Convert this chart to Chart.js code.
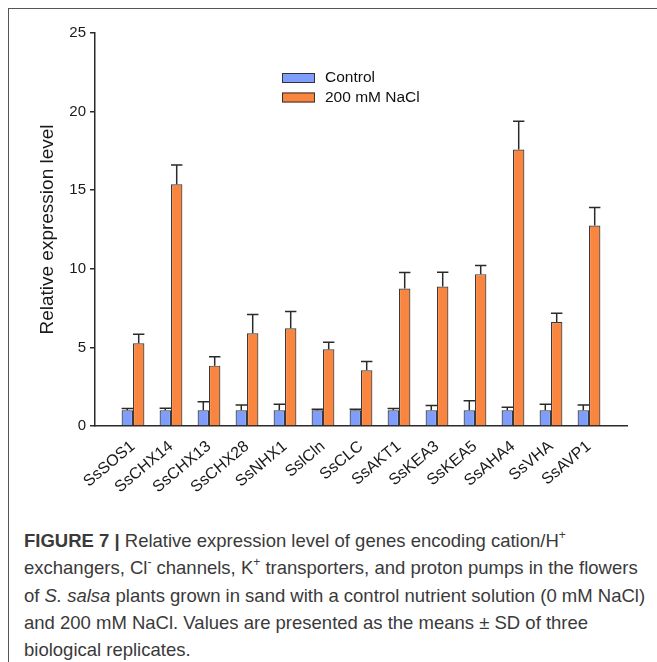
<!DOCTYPE html>
<html>
<head>
<meta charset="utf-8">
<script src="https://cdn.jsdelivr.net/npm/chart.js@4.4.0/dist/chart.umd.min.js"></script>
<style>
  body { margin: 0; background: #fff; }
  #wrap { position: relative; width: 657px; height: 662px; overflow: hidden; }
  #frame { position: absolute; left: 8px; top: 8px; width: 660px; height: 670px;
           border-left: 1px solid #555; border-top: 1px solid #555; }
  #chartBox { position: absolute; left: 0; top: 0; width: 657px; height: 500px; }
  #caption { position: absolute; left: 24px; top: 527px; width: 630px;
             font-family: "Liberation Sans", Arial, sans-serif; font-size: 18.5px;
             line-height: 27.3px; color: #3a3a3a; white-space: nowrap; }
  #caption sup { font-size: 12px; line-height: 0; position: relative; top: -1px; }
</style>
</head>
<body>
<div id="wrap">
  <div id="frame"></div>
  <div id="chartBox"><canvas id="expressionChart" width="657" height="500"></canvas></div>
  <div id="caption">
    <b>FIGURE 7 |</b> Relative expression level of genes encoding cation/H<sup>+</sup><br>
    exchangers, Cl<sup>-</sup> channels, K<sup>+</sup> transporters, and proton pumps in the flowers<br>
    of <i>S. salsa</i> plants grown in sand with a control nutrient solution (0 mM NaCl)<br>
    and 200 mM NaCl. Values are presented as the means &plusmn; SD of three<br>
    biological replicates.
  </div>
</div>
<script>
const genes = ['SsSOS1', 'SsCHX14', 'SsCHX13', 'SsCHX28', 'SsNHX1', 'SslCln', 'SsCLC',
               'SsAKT1', 'SsKEA3', 'SsKEA5', 'SsAHA4', 'SsVHA', 'SsAVP1'];
const controlMean = [1.0, 1.0, 1.0, 1.0, 1.0, 1.0, 1.0, 1.0, 1.0, 1.0, 1.0, 1.0, 1.0];
const controlSD   = [0.12, 0.13, 0.55, 0.34, 0.38, 0.07, 0.06, 0.12, 0.3, 0.6, 0.2, 0.38, 0.34];
const naclMean = [5.26, 15.38, 3.84, 5.9, 6.22, 4.88, 3.54, 8.74, 8.87, 9.66, 17.59, 6.62, 12.75];
const naclSD   = [0.57, 1.23, 0.57, 1.19, 1.06, 0.45, 0.57, 1.02, 0.91, 0.55, 1.8, 0.55, 1.15];
const yTicks = [0, 5, 10, 15, 20, 25];

const FONT = '"Liberation Sans", Arial, sans-serif';

// error bars (upper half only, with cap)
const errorBars = {
    id: 'errorBars',
    afterDatasetsDraw(chart) {
        const ctx = chart.ctx;
        const yScale = chart.scales.y;
        ctx.save();
        ctx.strokeStyle = '#2a2a2a';
        ctx.lineWidth = 1.5;
        chart.data.datasets.forEach((ds, i) => {
            const meta = chart.getDatasetMeta(i);
            meta.data.forEach((bar, j) => {
                const top = yScale.getPixelForValue(ds.data[j].y + ds.sd[j]);
                const half = bar.width / 2;
                ctx.beginPath();
                ctx.moveTo(bar.x, bar.y);
                ctx.lineTo(bar.x, top);
                ctx.moveTo(bar.x - half, top);
                ctx.lineTo(bar.x + half, top);
                ctx.stroke();
            });
        });
        ctx.restore();
    }
};

// legend box inside the plot
const innerLegend = {
    id: 'innerLegend',
    afterDraw(chart) {
        const ctx = chart.ctx;
        ctx.save();
        ctx.font = '15.5px ' + FONT;
        ctx.textBaseline = 'middle';
        chart.data.datasets.forEach((ds, i) => {
            const y = 73 + i * 19.5;
            ctx.fillStyle = ds.backgroundColor;
            ctx.fillRect(282, y, 33, 10);
            ctx.strokeStyle = '#333';
            ctx.lineWidth = 1;
            ctx.strokeRect(282.5, y + 0.5, 32, 9);
            ctx.fillStyle = '#111';
            ctx.fillText(ds.label, 325, y + 5);
        });
        ctx.restore();
    }
};

const expressionChart = new Chart(document.getElementById('expressionChart').getContext('2d'), {
    type: 'bar',
    data: {
        datasets: [
            {
                label: 'Control',
                data: controlMean.map((v, i) => ({ x: i + 1, y: v })),
                sd: controlSD,
                backgroundColor: '#7f9dfd',
                borderColor: '#3a3a3a',
                borderWidth: 1.2
            },
            {
                label: '200 mM NaCl',
                data: naclMean.map((v, i) => ({ x: i + 1, y: v })),
                sd: naclSD,
                backgroundColor: '#fa853f',
                borderColor: '#3a3a3a',
                borderWidth: 1.2
            }
        ]
    },
    options: {
        responsive: false,
        animation: false,
        categoryPercentage: 0.6,
        barPercentage: 1.0,
        layout: { padding: { top: 33, right: 30, left: 0, bottom: 0 } },
        plugins: { legend: { display: false }, tooltip: { enabled: false } },
        scales: {
            x: {
                type: 'linear',
                min: 0,
                max: 14,
                offset: false,
                grid: { display: false },
                border: { display: true, color: '#2a2a2a', width: 1.5 },
                afterBuildTicks: (scale) => { scale.ticks = genes.map((g, i) => ({ value: i + 1 })); },
                afterFit: (scale) => { scale.height = 74; },
                ticks: {
                    autoSkip: false,
                    minRotation: 40,
                    maxRotation: 40,
                    padding: 3,
                    color: '#1a1a1a',
                    font: { family: FONT, size: 16 },
                    callback: (v) => genes[v - 1] || ''
                }
            },
            y: {
                min: 0,
                max: 25,
                afterBuildTicks: (scale) => { scale.ticks = yTicks.map(v => ({ value: v })); },
                afterFit: (scale) => { scale.width = 95; },
                grid: { drawOnChartArea: false, drawTicks: true, tickLength: 5, color: '#2a2a2a', lineWidth: 1.5 },
                border: { display: true, color: '#2a2a2a', width: 1.5 },
                ticks: {
                    padding: 4,
                    color: '#1a1a1a',
                    font: { family: FONT, size: 15 }
                },
                title: {
                    display: true,
                    text: 'Relative expression level',
                    color: '#1a1a1a',
                    font: { family: FONT, size: 19 },
                    padding: { top: 36, bottom: 0 }
                }
            }
        }
    },
    plugins: [errorBars, innerLegend]
});
</script>
</body>
</html>
